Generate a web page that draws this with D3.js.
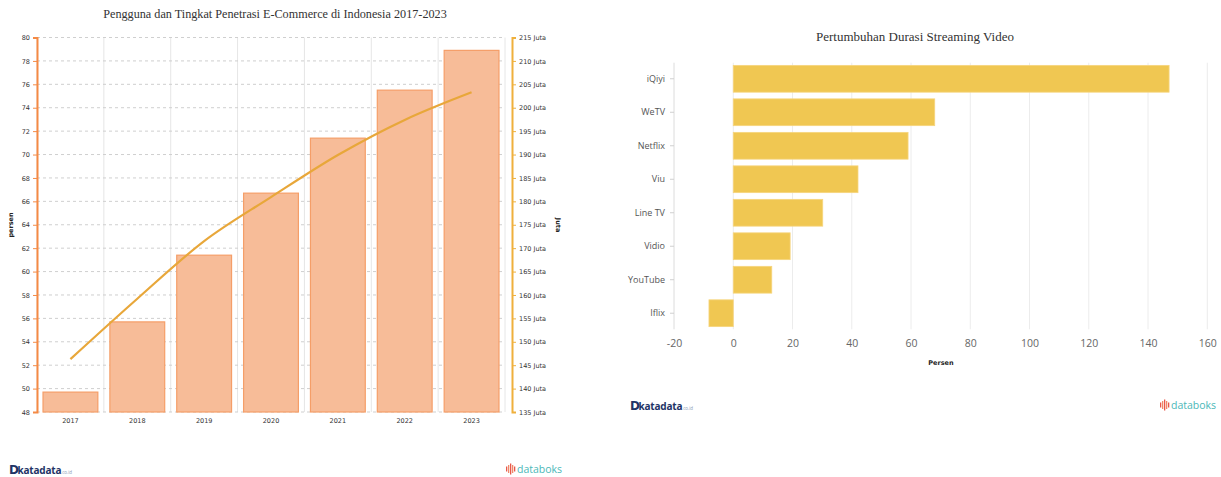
<!DOCTYPE html>
<html>
<head>
<meta charset="utf-8">
<script src="https://cdn.jsdelivr.net/npm/d3@7"></script>
<style>
  body { margin: 0; background: #fff; }
  svg { display: block; }
</style>
</head>
<body>
<div id="chart"></div>
<script>
// chart 1 data
var years = ["2017", "2018", "2019", "2020", "2021", "2022", "2023"];
var penetrasi = [49.7, 55.7, 61.4, 66.7, 71.4, 75.5, 78.9];
var pengguna = [146.3, 159.2, 171.5, 180.9, 189.9, 197.4, 203.3];
var leftTicks = d3.range(48, 81, 2);
var rightTicks = d3.range(135, 216, 5);

// chart 2 data
var platforms = ["iQiyi", "WeTV", "Netflix", "Viu", "Line TV", "Vidio", "YouTube", "Iflix"];
var pertumbuhan = [147.1, 68.0, 59.0, 42.1, 30.2, 19.2, 13.0, -8.2];
var xTicks = [-20, 0, 20, 40, 60, 80, 100, 120, 140, 160];

var svg = d3.select("#chart")
  .append("svg")
  .attr("width", 1221)
  .attr("height", 477);

// ---------- left chart ----------
var m1 = {left: 37, right: 505, top: 37.5, bottom: 412};

var x1 = d3.scaleBand()
  .domain(years)
  .range([m1.left, m1.right])
  .paddingInner(0.18)
  .paddingOuter(0.09);

var yL = d3.scaleLinear().domain([48, 80]).range([m1.bottom, m1.top]);
var yR = d3.scaleLinear().domain([135, 215]).range([m1.bottom, m1.top]);

svg.append("text")
  .attr("x", 275)
  .attr("y", 18)
  .attr("text-anchor", "middle")
  .attr("font-family", "Liberation Serif, serif")
  .attr("font-size", "12.2px")
  .attr("fill", "#333")
  .text("Pengguna dan Tingkat Penetrasi E-Commerce di Indonesia 2017-2023");

var g1 = svg.append("g");

// vertical grid at band boundaries
var step = x1.step();
var bounds = years.map(function(d) { return x1(d) - x1.paddingOuter() * step; });
bounds.push(m1.right);
g1.selectAll(".vgrid")
  .data(bounds)
  .enter()
  .append("line")
    .attr("x1", function(d) { return d; })
    .attr("x2", function(d) { return d; })
    .attr("y1", m1.top)
    .attr("y2", m1.bottom)
    .style("stroke", "#e6e6e6")
    .style("stroke-width", 1);

// horizontal dashed grid
g1.selectAll(".hgrid")
  .data(leftTicks)
  .enter()
  .append("line")
    .attr("x1", m1.left)
    .attr("x2", m1.right)
    .attr("y1", function(d) { return yL(d); })
    .attr("y2", function(d) { return yL(d); })
    .style("stroke", "#cfcfcf")
    .style("stroke-dasharray", "3,3")
    .style("stroke-width", 1);

// bars
g1.selectAll("rect")
  .data(penetrasi)
  .enter()
  .append("rect")
    .attr("x", function(d, i) { return x1(years[i]); })
    .attr("y", function(d) { return yL(d); })
    .attr("width", x1.bandwidth())
    .attr("height", function(d) { return yL(48) - yL(d); })
    .style("fill", "#f7bc98")
    .style("stroke", "#f59e68")
    .style("stroke-width", 1.2);

// line
var line = d3.line()
  .x(function(d, i) { return x1(years[i]) + x1.bandwidth() / 2; })
  .y(function(d) { return yR(d); })
  .curve(d3.curveMonotoneX);

g1.append("path")
  .datum(pengguna)
  .attr("d", line)
  .style("fill", "none")
  .style("stroke", "#e8a73a")
  .style("stroke-width", 2.2);

// left axis
var axL = g1.append("g")
  .attr("transform", "translate(" + m1.left + ",0)")
  .call(d3.axisLeft(yL).tickValues(leftTicks).tickSize(4).tickPadding(3));
axL.select(".domain").style("stroke", "#f58a44").style("stroke-width", 2);
axL.selectAll(".tick line").style("stroke", "#f58a44");
axL.selectAll("text").attr("font-family", "DejaVu Sans, sans-serif").attr("font-size", "6.5px").attr("fill", "#333");

// right axis
var axR = g1.append("g")
  .attr("transform", "translate(512,0)")
  .call(d3.axisRight(yR).tickValues(rightTicks).tickSize(4).tickPadding(3)
    .tickFormat(function(d) { return d + " Juta"; }));
axR.select(".domain").style("stroke", "#efb03c").style("stroke-width", 2);
axR.selectAll(".tick line").style("stroke", "#efb03c");
axR.selectAll("text").attr("font-family", "DejaVu Sans, sans-serif").attr("font-size", "6.5px").attr("fill", "#333");

// bottom axis labels
var axB = g1.append("g")
  .attr("transform", "translate(0," + m1.bottom + ")")
  .call(d3.axisBottom(x1).tickSize(0).tickPadding(6));
axB.select(".domain").remove();
axB.selectAll("text").attr("font-family", "DejaVu Sans, sans-serif").attr("font-size", "6.5px").attr("fill", "#333");

// axis titles
g1.append("text")
  .attr("transform", "translate(13,225) rotate(-90)")
  .attr("text-anchor", "middle")
  .attr("font-family", "DejaVu Sans, sans-serif")
  .attr("font-size", "6.5px")
  .attr("font-weight", "bold")
  .attr("fill", "#222")
  .text("persen");

g1.append("text")
  .attr("transform", "translate(556,225) rotate(90)")
  .attr("text-anchor", "middle")
  .attr("font-family", "DejaVu Sans, sans-serif")
  .attr("font-size", "6.5px")
  .attr("font-weight", "bold")
  .attr("fill", "#222")
  .text("Juta");

// ---------- right chart ----------
var m2 = {left: 674, right: 1207.3, top: 62.7, bottom: 329.3};

var x2 = d3.scaleLinear().domain([-20, 160]).range([m2.left, m2.right]);
var y2 = d3.scaleBand()
  .domain(platforms)
  .range([m2.top, m2.bottom])
  .paddingInner(0.2)
  .paddingOuter(0.08);

svg.append("text")
  .attr("x", 915)
  .attr("y", 41)
  .attr("text-anchor", "middle")
  .attr("font-family", "Liberation Serif, serif")
  .attr("font-size", "13px")
  .attr("fill", "#333")
  .text("Pertumbuhan Durasi Streaming Video");

var g2 = svg.append("g");

g2.selectAll(".vgrid2")
  .data(xTicks)
  .enter()
  .append("line")
    .attr("x1", function(d) { return x2(d); })
    .attr("x2", function(d) { return x2(d); })
    .attr("y1", m2.top)
    .attr("y2", m2.bottom)
    .style("stroke", function(d) { return d === -20 ? "#dcdcdc" : "#ececec"; })
    .style("stroke-width", 1);

g2.selectAll("rect")
  .data(pertumbuhan)
  .enter()
  .append("rect")
    .attr("x", function(d) { return x2(Math.min(0, d)); })
    .attr("y", function(d, i) { return y2(platforms[i]); })
    .attr("width", function(d) { return Math.abs(x2(d) - x2(0)); })
    .attr("height", y2.bandwidth())
    .style("fill", "#f0c752")
    .style("stroke", "#f6d57e")
    .style("stroke-width", 0.8);

var axY2 = g2.append("g")
  .attr("transform", "translate(" + m2.left + ",0)")
  .call(d3.axisLeft(y2).tickSize(4).tickPadding(5));
axY2.select(".domain").remove();
axY2.selectAll(".tick line").style("stroke", "#d0d0d0");
axY2.selectAll("text").attr("font-family", "Open Sans, sans-serif").attr("font-size", "9px").attr("fill", "#555");

var axX2 = g2.append("g")
  .attr("transform", "translate(0," + m2.bottom + ")")
  .call(d3.axisBottom(x2).tickValues(xTicks).tickSize(0).tickPadding(10)
    .tickFormat(function(d) { return String(d); }));
axX2.select(".domain").remove();
axX2.selectAll("text").attr("font-family", "Open Sans, sans-serif").attr("font-size", "10.5px").attr("fill", "#666");

g2.append("text")
  .attr("x", 941)
  .attr("y", 365)
  .attr("text-anchor", "middle")
  .attr("font-family", "DejaVu Sans, sans-serif")
  .attr("font-size", "6.5px")
  .attr("font-weight", "bold")
  .attr("fill", "#222")
  .text("Persen");

// ---------- logos (text) ----------
function katadata(x, y) {
  var g = svg.append("g").attr("transform", "translate(" + x + "," + y + ")");
  g.append("text")
    .attr("font-family", "DejaVu Sans, sans-serif")
    .attr("font-weight", "bold")
    .attr("font-size", "12px")
    .attr("fill", "#1f3466")
    .text("D");
  g.append("text")
    .attr("x", 8.5)
    .attr("font-family", "Open Sans, sans-serif")
    .attr("font-weight", "bold")
    .attr("font-size", "10px")
    .attr("fill", "#1f3466")
    .attr("letter-spacing", "-0.2")
    .text("katadata");
  g.append("text")
    .attr("x", 52)
    .attr("font-family", "Open Sans, sans-serif")
    .attr("font-size", "4.5px")
    .attr("fill", "#8a9ab5")
    .text(".co.id");
}

function databoks(x, y) {
  var g = svg.append("g").attr("transform", "translate(" + x + "," + y + ")");
  var hs = [5, 8, 11, 8, 5];
  g.selectAll("rect")
    .data(hs)
    .enter()
    .append("rect")
      .attr("x", function(d, i) { return i * 2; })
      .attr("y", function(d) { return -4 - d / 2; })
      .attr("width", 1.3)
      .attr("height", function(d) { return d; })
      .style("fill", function(d, i) { return i % 2 ? "#f08a6a" : "#e8584a"; });
  g.append("text")
    .attr("x", 11)
    .attr("font-family", "Open Sans, sans-serif")
    .attr("font-size", "10.5px")
    .attr("fill", "#4bb8b8")
    .text("databoks");
}

katadata(9, 474);
databoks(506, 473);
katadata(630, 410);
databoks(1160, 409);
</script>
</body>
</html>
